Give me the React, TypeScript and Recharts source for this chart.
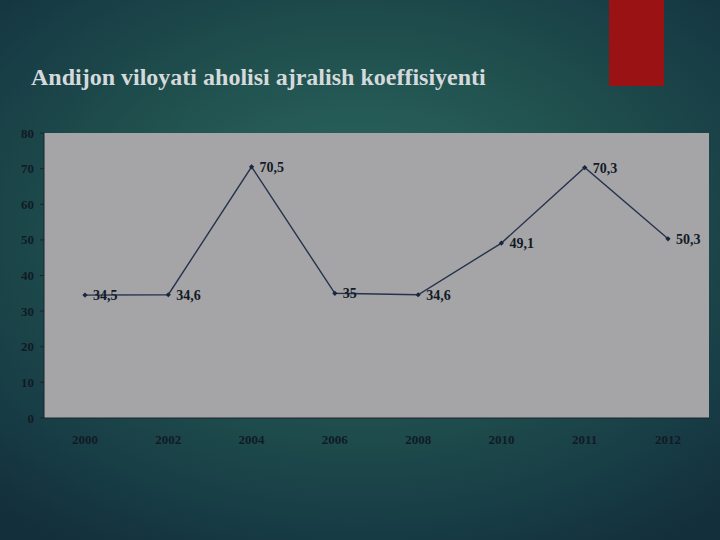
import { LineChart, Line, XAxis, YAxis, CartesianGrid, LabelList } from "recharts"

const years = ["2000", "2002", "2004", "2006", "2008", "2010", "2011", "2012"]
const coefficient = [34.5, 34.6, 70.5, 35, 34.6, 49.1, 70.3, 50.3]
const yTicks = [0, 10, 20, 30, 40, 50, 60, 70, 80]

const data = years.map((year, i) => ({ year, value: coefficient[i] }))

const serif = "'Liberation Serif', 'Times New Roman', serif"

function Diamond(props: any) {
  const { cx, cy } = props
  if (cx == null || cy == null) return null
  const s = 2.6
  return (
    <path
      d={`M${cx},${cy - s}L${cx + s},${cy}L${cx},${cy + s}L${cx - s},${cy}Z`}
      fill="#1c2640"
    />
  )
}

export default function App() {
  return (
    <div
      style={{
        position: "absolute",
        left: 0,
        top: 0,
        width: 720,
        height: 540,
        overflow: "hidden",
        background:
          "radial-gradient(ellipse 75% 70% at 50% 42%, #2d6b66 0%, #21524f 45%, #173c45 80%, #132f3b 100%)",
      }}
    >
      <div
        style={{
          position: "absolute",
          left: 609,
          top: 0,
          width: 55,
          height: 86,
          background: "#9a1214",
        }}
      />
      <div
        style={{
          position: "absolute",
          left: 31,
          top: 63,
          fontFamily: serif,
          fontWeight: "bold",
          fontSize: 24,
          lineHeight: "28px",
          color: "#d4dadb",
          whiteSpace: "nowrap",
        }}
      >
        Andijon viloyati aholisi ajralish koeffisiyenti
      </div>
      <div style={{ position: "absolute", left: 0, top: 0 }}>
        <LineChart
          width={720}
          height={540}
          data={data}
          margin={{ top: 133, right: 11, bottom: 92, left: 0 }}
        >
          <CartesianGrid
            horizontal={false}
            vertical={false}
            fill="#a5a5a7"
            fillOpacity={1}
            stroke="#2a3a44"
          />
          <XAxis
            dataKey="year"
            height={30}
            padding={{ left: 41, right: 41 }}
            axisLine={{ stroke: "#1a2430" }}
            tickLine={false}
            tick={{ fill: "#111a26", fontSize: 13, fontWeight: "bold", fontFamily: serif }}
            tickMargin={11}
          />
          <YAxis
            width={44}
            domain={[0, 80]}
            ticks={yTicks}
            interval={0}
            axisLine={{ stroke: "#1a2430" }}
            tickLine={{ stroke: "#1a2430" }}
            tickSize={4}
            tickMargin={6}
            tick={{ fill: "#111a26", fontSize: 13, fontWeight: "bold", fontFamily: serif }}
          />
          <Line
            dataKey="value"
            stroke="#26324f"
            strokeWidth={1.4}
            dot={<Diamond />}
            isAnimationActive={false}
          >
            <LabelList
              dataKey="value"
              position="right"
              offset={8}
              formatter={(v: any) => String(v).replace(".", ",")}
              style={{ fill: "#111a26", fontSize: 14, fontWeight: "bold", fontFamily: serif }}
            />
          </Line>
        </LineChart>
      </div>
    </div>
  )
}
